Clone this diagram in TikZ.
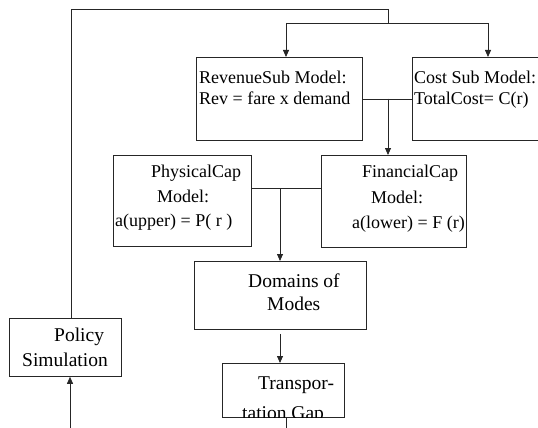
\documentclass[tikz,border=0pt]{standalone}
\usepackage{fontspec}
\setmainfont{Liberation Serif}
\usetikzlibrary{arrows.meta}
\begin{document}
\begin{tikzpicture}[x=1pt,y=-1pt,
  box/.style={draw=black!85,line width=0.8pt,inner sep=0pt,anchor=north west},
  txt/.style={anchor=base west,inner sep=0pt,font=\fontsize{18}{20}\selectfont},
  big/.style={anchor=base west,inner sep=0pt,font=\fontsize{19.5}{22}\selectfont},
  wire/.style={draw=black!85,line width=0.8pt},
  arr/.style={wire,-{Triangle[width=6pt,length=7pt]}}]
\useasboundingbox (0,0) rectangle (538,428);
\clip (0,0) rectangle (538,428);
% boxes
\node[box,minimum width=166pt,minimum height=83pt] (rev) at (196,57) {};
\node[box,minimum width=140pt,minimum height=83pt] (cost) at (412,57) {};
\node[box,minimum width=138pt,minimum height=91pt] (phys) at (113,155) {};
\node[box,minimum width=145pt,minimum height=92pt] (fin) at (321,155) {};
\node[box,minimum width=172pt,minimum height=68pt] (dom) at (194,261) {};
\node[box,minimum width=122pt,minimum height=54pt] (tra) at (222,363) {};
\node[box,minimum width=112pt,minimum height=58pt] (pol) at (9,318) {};
% texts
\node[txt] (t1) at (199,84) {RevenueSub Model:};
\node[txt] (t2) at (199,104) {Rev = fare x demand};
\node[txt] (t3) at (414,84) {Cost Sub Model:};
\node[txt] (t4) at (414,104) {TotalCost= C(r)};
\node[txt] (t5) at (151,177) {PhysicalCap};
\node[txt] (t6) at (157,202) {Model:};
\node[txt] (t7) at (115,226) {a(upper) = P( r )};
\node[txt] (t8) at (362,177) {FinancialCap};
\node[txt] (t9) at (371,203) {Model:};
\node[txt] (t10) at (352,228) {a(lower) = F (r)};
\node[big] (t11) at (248,287) {Domains of};
\node[big] (t12) at (267,310) {Modes};
\node[big] (t13) at (54,341) {Policy};
\node[big] (t14) at (22,366) {Simulation};
\node[big] (t15) at (258,389) {Transpor-};
\begin{scope}
\clip (tra.north west) rectangle (tra.south east);
\node[big] (t16) at (242,419) {tation Gap};
\end{scope}
% connector coordinates
\coordinate (c1) at (71,9.5);
\coordinate (c2) at (388,9.5);
\coordinate (c3) at (388,23);
\coordinate (c4) at (286,23);
\coordinate (c5) at (488,23);
\coordinate (c6) at (388,98.5);
\coordinate (c7) at (251,188);
\coordinate (c8) at (321,188);
\coordinate (c9) at (280,188);
\coordinate (c10) at (286,428);
\coordinate (c11) at (70,428);
% connectors
\draw[wire] (pol.north -| c1) -- (c1) -- (c2) -- (c3);
\draw[wire] (c4) -- (c5);
\draw[arr] (c4) -- (rev.north -| c4);
\draw[arr] (c5) -- (cost.north -| c5);
\draw[wire] (rev.east) -- (cost.west);
\draw[arr] (c6) -- (fin.north -| c6);
\draw[wire] (c7) -- (c8);
\draw[arr] (c9) -- (dom.north -| c9);
\draw[arr,shorten <=4pt] (dom.south -| c9) -- (tra.north -| c9);
\draw[wire] (tra.south -| c10) -- (c10);
\draw[arr] (c11) -- (pol.south -| c11);
\end{tikzpicture}
\end{document}
